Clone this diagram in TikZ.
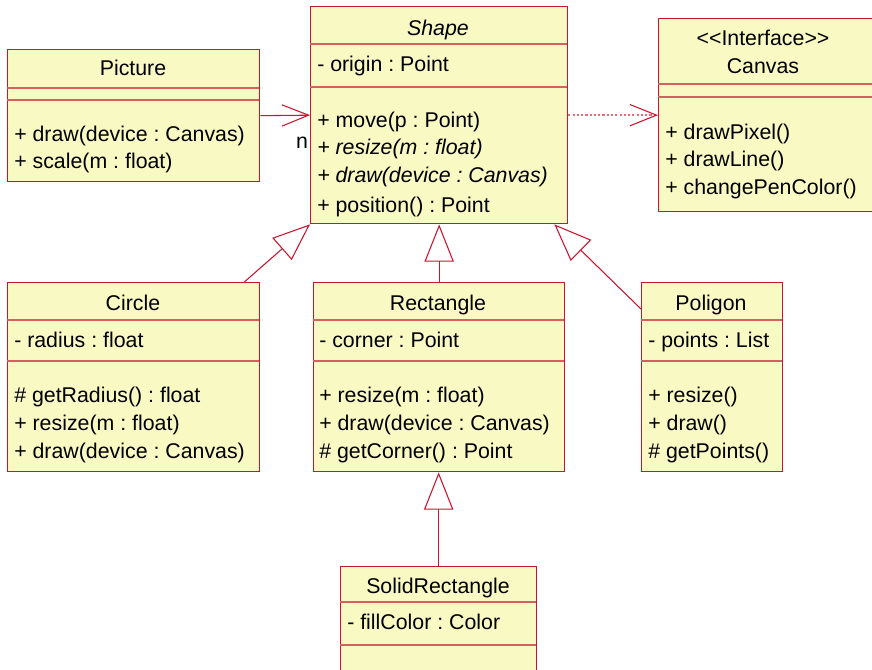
\documentclass[tikz,border=0pt]{standalone}
\usepackage{fontspec}
\setmainfont{Liberation Sans}[Ligatures=TeXOff]
\usetikzlibrary{arrows.meta,calc}
\definecolor{umlred}{RGB}{204,20,45}
\definecolor{umlfill}{RGB}{249,249,196}
\definecolor{umlline}{RGB}{214,96,96}
\definecolor{umldots}{RGB}{228,110,120}

\begin{document}
\frenchspacing
\begin{tikzpicture}[x=0.75pt, y=-0.75pt,
    box/.style = {draw=umlred, fill=umlfill, line width=1pt, anchor=north west, inner sep=0pt},
    title/.style = {font=\fontsize{16}{19}\selectfont, inner sep=0pt, text height=12.5pt, text depth=3pt},
    member/.style = {font=\fontsize{16}{19}\selectfont, anchor=west, inner sep=0pt, text height=15pt, text depth=3pt},
    sep/.style = {draw=umlline, line width=1pt},
    inherit/.style = {draw=umlred, line width=0.8pt, -{Triangle[open, length=28pt, width=22pt, fill=white]}},
    assoc/.style = {draw=umlred, line width=0.8pt, -{Straight Barb[length=20pt, width=16pt]}},
    depend/.style = {draw=umldots, line width=1.4pt, dash pattern=on 1.6pt off 1.6pt,
        -{Straight Barb[length=20pt, width=16pt, line width=0.8pt, color=umlred]}}]

    \useasboundingbox (0,0) rectangle (872,669);

    % classes
    \node[box, minimum width=189pt, minimum height=99pt]        (picture) at (7,49)   {};
    \node[box, minimum width=192.75pt, minimum height=162.75pt] (shape)   at (310,6)  {};
    \node[box, minimum width=162pt, minimum height=144.75pt]    (canvas)  at (658,18) {};
    \node[box, minimum width=189pt, minimum height=141.75pt]    (circle)  at (7,282)  {};
    \node[box, minimum width=188.25pt, minimum height=141.75pt] (rect)    at (313,282) {};
    \node[box, minimum width=105.75pt, minimum height=141.75pt] (poligon) at (641,282) {};
    \node[box, minimum width=147pt, minimum height=100.5pt]     (solid)   at (340,566) {};

    % compartments
    \draw[sep] (7,88) -- (259,88)  (7,100) -- (259,100);
    \draw[sep] (310,44) -- (567,44)  (310,87) -- (567,87);
    \draw[sep] (658,84) -- (872,84)  (658,97) -- (872,97);
    \draw[sep] (7,320) -- (259,320)  (7,361) -- (259,361);
    \draw[sep] (313,320) -- (564,320)  (313,361) -- (564,361);
    \draw[sep] (641,320) -- (782,320)  (641,361) -- (782,361);
    \draw[sep] (340,602) -- (536,602)  (340,645) -- (536,645);

    \node[title] (picture-name) at (133,69) {Picture};
    \node[member] (picture-m1) at (14,133) {+ draw(device : Canvas)};
    \node[member] (picture-m2) at (14,160) {+ scale(m : float)};

    \node[title] (shape-name) at (438,29) {\itshape Shape};
    \node[member] (shape-a1) at (317,63) {- origin : Point};
    \node[member] (shape-m1) at (317,119) {+ move(p : Point)};
    \node[member] (shape-m2) at (317,146) {\itshape + resize(m : float)};
    \node[member] (shape-m3) at (317,174) {\itshape + draw(device : Canvas)};
    \node[member] (shape-m4) at (317,204) {+ position() : Point};

    \node[title] (canvas-stereo) at (763,39) {<<Interface>>};
    \node[title] (canvas-name) at (763,67) {Canvas};
    \node[member] (canvas-m1) at (665,131) {+ drawPixel()};
    \node[member] (canvas-m2) at (665,158) {+ drawLine()};
    \node[member] (canvas-m3) at (665,186) {+ changePenColor()};

    \node[title] (circle-name) at (133,304) {Circle};
    \node[member] (circle-a1) at (14,339) {- radius : float};
    \node[member] (circle-m1) at (14,394) {\# getRadius() : float};
    \node[member] (circle-m2) at (14,422) {+ resize(m : float)};
    \node[member] (circle-m3) at (14,450) {+ draw(device : Canvas)};

    \node[title] (rect-name) at (438,304) {Rectangle};
    \node[member] (rect-a1) at (319,339) {- corner : Point};
    \node[member] (rect-m1) at (319,394) {+ resize(m : float)};
    \node[member] (rect-m2) at (319,422) {+ draw(device : Canvas)};
    \node[member] (rect-m3) at (319,450) {\# getCorner() : Point};

    \node[title] (poligon-name) at (711,304) {Poligon};
    \node[member] (poligon-a1) at (648,339) {- points : List};
    \node[member] (poligon-m1) at (648,394) {+ resize()};
    \node[member] (poligon-m2) at (648,422) {+ draw()};
    \node[member] (poligon-m3) at (648,450) {\# getPoints()};

    \node[title] (solid-name) at (438,587) {SolidRectangle};
    \node[member] (solid-a1) at (347,621) {- fillColor : Color};

    % relations
    \draw[assoc] (picture.east) -- node[title, pos=1, xshift=-6pt, yshift=-20pt] (mult) {n} (shape.west);
    \draw[depend] (shape.east) -- (canvas.west);
    \draw[inherit] ($(circle.north east)+(-16,0)$) -- (shape.south west);
    \draw[inherit] (rect.north) -- (rect.north |- shape.south);
    \draw[inherit] ($(poligon.north west)+(0,27)$) -- ($(shape.south east)+(-14,0)$);
    \draw[inherit] (solid.north) -- (solid.north |- rect.south);

\end{tikzpicture}
\end{document}
